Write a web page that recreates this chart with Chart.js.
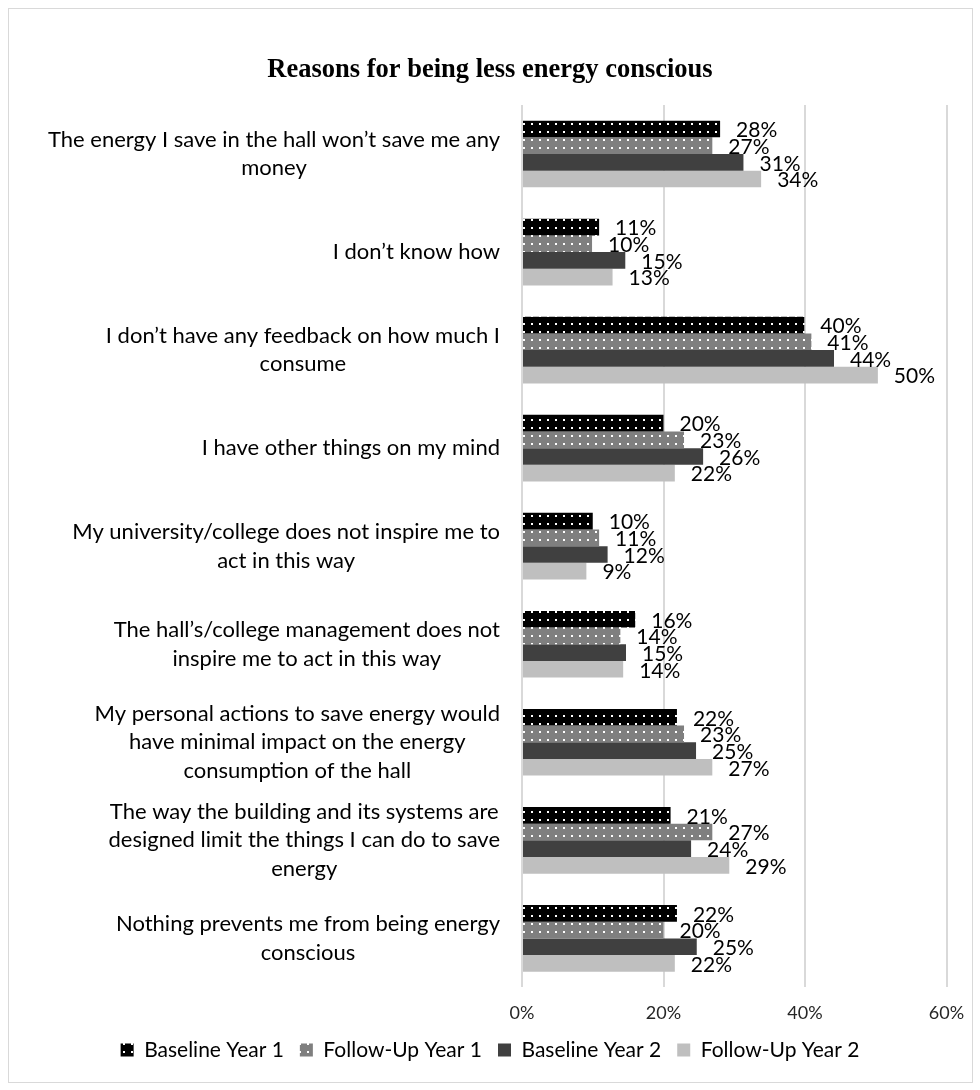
<!DOCTYPE html>
<html>
<head>
<meta charset="utf-8">
<script src="https://cdn.jsdelivr.net/npm/chart.js@4.4.1/dist/chart.umd.min.js"></script>
<style>
  html, body { margin: 0; padding: 0; background: #fff; }
  canvas { display: block; }
</style>
</head>
<body>
<canvas id="chart" width="980" height="1090"></canvas>
<script>
// categories, top to bottom (line breaks as in the original)
const categories = [
  ['The energy I save in the hall won’t save me any', 'money'],
  ['I don’t know how'],
  ['I don’t have any feedback on how much I', 'consume'],
  ['I have other things on my mind'],
  ['My university/college does not inspire me to', 'act in this way'],
  ['The hall’s/college management does not', 'inspire me to act in this way'],
  ['My personal actions to save energy would', 'have minimal impact on the energy', 'consumption of the hall'],
  ['The way the building and its systems are', 'designed limit the things I can do to save', 'energy'],
  ['Nothing prevents me from being energy', 'conscious']
];

const seriesNames = ['Baseline Year 1', 'Follow-Up Year 1', 'Baseline Year 2', 'Follow-Up Year 2'];

// percentages
const baselineYear1 = [28.0, 10.9, 39.9, 20.0, 10.0, 16.0, 21.9, 21.0, 21.9];
const followUpYear1 = [26.9, 9.9, 40.9, 22.9, 10.9, 13.9, 22.9, 26.9, 20.0];
const baselineYear2 = [31.3, 14.6, 44.1, 25.6, 12.1, 14.7, 24.6, 23.9, 24.7];
const followUpYear2 = [33.8, 12.8, 50.3, 21.6, 9.1, 14.3, 26.9, 29.3, 21.6];

const xTicks = [0, 20, 40, 60];

const canvas = document.getElementById('chart');
const ctx = canvas.getContext('2d');

// small tile with a white dot, like the Excel dotted fill
function dotPattern(bg) {
  const tile = document.createElement('canvas');
  tile.width = 8;
  tile.height = 8;
  const c = tile.getContext('2d');
  c.fillStyle = bg;
  c.fillRect(0, 0, 8, 8);
  c.fillStyle = '#fff';
  c.fillRect(3, 3, 2, 2);
  return ctx.createPattern(tile, 'repeat');
}

const frame = {
  id: 'frame',
  beforeDraw(chart) {
    const c = chart.ctx;
    c.save();
    c.fillStyle = '#fff';
    c.fillRect(0, 0, chart.width, chart.height);
    c.strokeStyle = '#d9d9d9';
    c.lineWidth = 1;
    c.strokeRect(8.5, 8.5, 964, 1074);
    c.restore();
  }
};

// wrapped category labels, centred inside a box that is right aligned to the axis
const categoryLabels = {
  id: 'categoryLabels',
  afterDraw(chart) {
    const c = chart.ctx;
    const y = chart.scales.y;
    c.save();
    c.font = '22px Lato';
    c.fillStyle = '#000';
    c.textAlign = 'center';
    c.textBaseline = 'middle';
    const right = y.right - 22;
    const lineH = 28.5;
    categories.forEach((lines, i) => {
      const cy = y.getPixelForTick(i);
      const w = Math.max(...lines.map(l => c.measureText(l).width));
      const cx = right - w / 2;
      lines.forEach((l, j) => {
        c.fillText(l, cx, cy + (j - (lines.length - 1) / 2) * lineH);
      });
    });
    c.restore();
  }
};

const valueLabels = {
  id: 'valueLabels',
  afterDatasetsDraw(chart) {
    const c = chart.ctx;
    c.save();
    c.font = '21px Lato';
    c.fillStyle = '#000';
    c.textAlign = 'left';
    c.textBaseline = 'middle';
    chart.data.datasets.forEach((ds, di) => {
      const meta = chart.getDatasetMeta(di);
      meta.data.forEach((bar, i) => {
        c.fillText(Math.round(ds.data[i]) + '%', bar.x + 16, bar.y + 1.5);
      });
    });
    c.restore();
  }
};

new Chart(ctx, {
  type: 'bar',
  data: {
    labels: categories.map(l => l.join(' ')),
    datasets: [
      { label: seriesNames[0], data: baselineYear1, backgroundColor: dotPattern('#000000') },
      { label: seriesNames[1], data: followUpYear1, backgroundColor: dotPattern('#7f7f7f') },
      { label: seriesNames[2], data: baselineYear2, backgroundColor: '#404040' },
      { label: seriesNames[3], data: followUpYear2, backgroundColor: '#bfbfbf' }
    ]
  },
  options: {
    indexAxis: 'y',
    responsive: false,
    animation: false,
    datasets: {
      bar: { categoryPercentage: 0.68, barPercentage: 1.0, borderWidth: 0 }
    },
    layout: { padding: { left: 33.5, right: 33.5, top: 0, bottom: 19.5 } },
    scales: {
      y: {
        grid: { display: false },
        border: { display: false },
        ticks: { display: false },
        afterFit(scale) { scale.width = 488.5; }
      },
      x: {
        min: xTicks[0],
        max: xTicks[xTicks.length - 1],
        afterBuildTicks(scale) { scale.ticks = xTicks.map(v => ({ value: v })); },
        grid: { color: '#d9d9d9', lineWidth: 2, drawTicks: false },
        border: { display: false },
        ticks: {
          padding: 14.5,
          color: '#262626',
          font: { family: 'Lato', size: 18 },
          callback: v => v + '%'
        },
        afterFit(scale) { scale.height = 36.1; }
      }
    },
    plugins: {
      title: {
        display: true,
        text: 'Reasons for being less energy conscious',
        color: '#000',
        font: { family: 'Liberation Serif', size: 26.5, weight: 'bold', lineHeight: 1.2 },
        padding: { top: 54.1, bottom: 19.1 }
      },
      legend: {
        position: 'bottom',
        labels: {
          color: '#000',
          font: { family: 'Lato', size: 21 },
          boxWidth: 13,
          boxHeight: 13,
          padding: 16
        }
      },
      tooltip: { enabled: false }
    }
  },
  plugins: [frame, categoryLabels, valueLabels]
});
</script>
</body>
</html>
